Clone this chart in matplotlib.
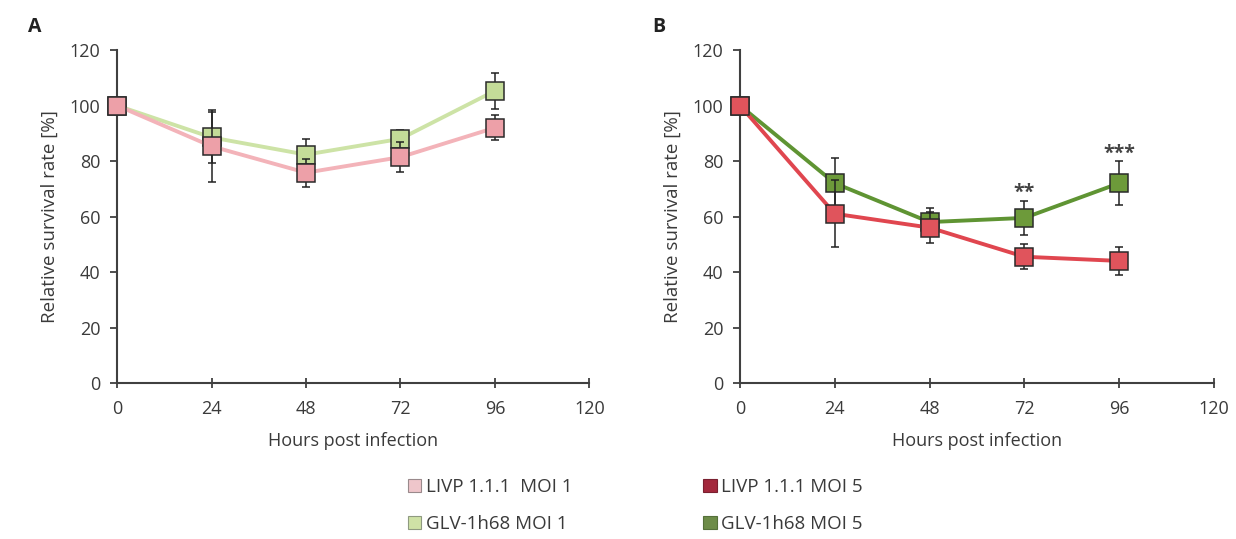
import matplotlib
matplotlib.use("Agg")
import matplotlib.pyplot as plt
from matplotlib.patches import Patch

hours = [0, 24, 48, 72, 96]

# Panel A (MOI 1)
livp_moi1 = [100, 85.3, 75.8, 81.4, 92]
livp_moi1_err = [0, 13, 5, 5.5, 4.5]
glv_moi1 = [100, 88.5, 82.3, 88, 105.3]
glv_moi1_err = [0, 9.3, 5.5, 3, 6.5]

# Panel B (MOI 5)
livp_moi5 = [100, 61, 56, 45.5, 44]
livp_moi5_err = [0, 12, 5.5, 4.5, 5]
glv_moi5 = [100, 72, 58, 59.5, 72]
glv_moi5_err = [0, 9, 5, 6, 8]

# significance marks in panel B
sig_hours = [72, 96]
sig_labels = ["**", "***"]
sig_heights = [68.5, 82.5]

x_ticks = [0, 24, 48, 72, 96, 120]
y_ticks = [0, 20, 40, 60, 80, 100, 120]

legend_labels = ["LIVP 1.1.1  MOI 1", "GLV-1h68 MOI 1",
                 "LIVP 1.1.1 MOI 5", "GLV-1h68 MOI 5"]

plt.rcParams['font.family'] = ['Open Sans', 'DejaVu Sans']

c_pink_line, c_pink_fill = "#f3b3b9", "#eda0a8"
c_lgreen_line, c_lgreen_fill = "#cde3a6", "#c4dc98"
c_red_line, c_red_fill = "#e0464f", "#e0545c"
c_dgreen_line, c_dgreen_fill = "#5f9433", "#6d9a3a"
axis_col = "#404040"
text_col = "#3a3a3a"

fig = plt.figure(figsize=(12.36, 5.39), dpi=100)
axA = fig.add_axes([0.0947, 0.2894, 0.3822, 0.6178])
axB = fig.add_axes([0.5987, 0.2894, 0.3835, 0.6178])


def series(ax, y, err, line_c, fill_c, z):
    ax.errorbar(hours, y, yerr=err, fmt='none', ecolor='#222222',
                elinewidth=1.1, capsize=3, capthick=1.1, zorder=z)
    ax.plot(hours, y, color=line_c, lw=2.8, zorder=z + 0.1,
            solid_capstyle='round', clip_on=False)
    ax.plot(hours, y, ls='none', marker='s', ms=13, mfc=fill_c,
            mec='#2a2a2a', mew=1.1, zorder=z + 0.2, clip_on=False)


series(axA, glv_moi1, glv_moi1_err, c_lgreen_line, c_lgreen_fill, 3)
series(axA, livp_moi1, livp_moi1_err, c_pink_line, c_pink_fill, 4)
series(axB, glv_moi5, glv_moi5_err, c_dgreen_line, c_dgreen_fill, 3)
series(axB, livp_moi5, livp_moi5_err, c_red_line, c_red_fill, 4)

for h, lab, yy in zip(sig_hours, sig_labels, sig_heights):
    axB.text(h, yy, lab, ha='center', va='center', fontsize=14,
             color='#444444', fontweight='bold')

for ax in (axA, axB):
    ax.set_xlim(0, 120)
    ax.set_ylim(0, 120)
    ax.set_xticks(x_ticks)
    ax.set_yticks(y_ticks)
    for s in ('top', 'right'):
        ax.spines[s].set_visible(False)
    for s in ('left', 'bottom'):
        ax.spines[s].set_color(axis_col)
        ax.spines[s].set_linewidth(1.5)
    ax.tick_params(axis='both', length=5, width=1.3,
                   color=axis_col, labelcolor=text_col, labelsize=13)
    ax.tick_params(axis='x', direction='inout', length=7, pad=9)
    ax.tick_params(axis='y', direction='out', pad=7)
    ax.set_xlabel("Hours post infection", fontsize=13, color=text_col,
                  labelpad=10)
    ax.set_ylabel("Relative survival rate [%]", fontsize=13.5,
                  color=text_col, labelpad=8)

fig.text(0.0227, 0.9406, "A", fontsize=14, fontweight='bold',
         color='#222222', va='baseline')
fig.text(0.5275, 0.9406, "B", fontsize=14, fontweight='bold',
         color='#222222', va='baseline')

handles = [
    Patch(facecolor="#efc6cb", edgecolor="#9a8a8c", lw=0.8),
    Patch(facecolor="#cfe2a6", edgecolor="#8f9a80", lw=0.8),
    Patch(facecolor="#a3283c", edgecolor="#7a2030", lw=0.8),
    Patch(facecolor="#6d8c48", edgecolor="#55703a", lw=0.8),
]
fig.legend(handles, legend_labels, loc='upper left', ncol=2,
           bbox_to_anchor=(0.330, 0.113), frameon=False, fontsize=13.5,
           borderpad=0, borderaxespad=0,
           handlelength=0.7, handleheight=0.7, handletextpad=0.25,
           columnspacing=7.0, labelspacing=1.0, labelcolor=text_col)

fig.savefig("out.png", dpi=100, facecolor='white')
